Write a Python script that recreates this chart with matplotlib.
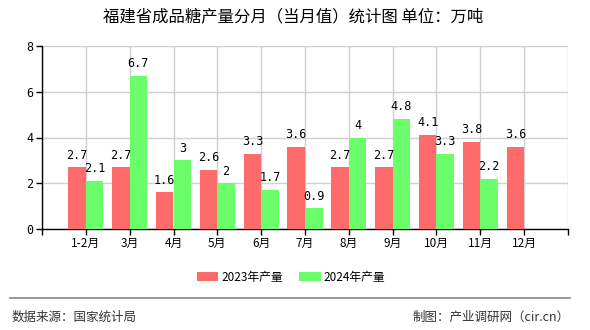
import matplotlib.pyplot as plt
import numpy as np

plt.rcParams['font.family'] = ['Noto Sans CJK SC', 'DejaVu Sans']

months = ["1-2月", "3月", "4月", "5月", "6月", "7月", "8月", "9月", "10月", "11月", "12月"]
prod_2023 = [2.7, 2.7, 1.6, 2.6, 3.3, 3.6, 2.7, 2.7, 4.1, 3.8, 3.6]
prod_2024 = [2.1, 6.7, 3, 2, 1.7, 0.9, 4, 4.8, 3.3, 2.2, None]

red = "#ff6a6a"
green = "#6aff6a"

fig = plt.figure(figsize=(5.9, 3.3), dpi=100)
ax = fig.add_axes([42 / 590, 1 - 229 / 330, 526 / 590, 183 / 330])

x = np.arange(len(months))
w = 0.4
ax.bar(x - w / 2, prod_2023, w, color=red, label="2023年产量", zorder=3)
x24 = [i for i, v in zip(x, prod_2024) if v is not None]
v24 = [v for v in prod_2024 if v is not None]
ax.bar(np.array(x24) + w / 2, v24, w, color=green, label="2024年产量", zorder=3)

mono = ["DejaVu Sans Mono"]
for i, v in zip(x, prod_2023):
    ax.text(i - w / 2, v + 0.25, f"{v:g}", ha="center", va="bottom",
            fontsize=8.5, family=mono, zorder=4)
for i, v in zip(x24, v24):
    ax.text(i + w / 2, v + 0.25, f"{v:g}", ha="center", va="bottom",
            fontsize=8.5, family=mono, zorder=4)

ax.set_xlim(-1, 11)
ax.set_ylim(0, 8)
ax.set_xticks(np.arange(-1, 12))
ax.set_xticklabels([""] + months + [""], fontsize=8.5)
ax.set_yticks([0, 2, 4, 6, 8])
ax.set_yticklabels(["0", "2", "4", "6", "8"], fontsize=8.5, family=mono)
ax.grid(True, color="#d0d0d0", linewidth=1, zorder=0)
for s in ["top", "right"]:
    ax.spines[s].set_visible(False)
ax.spines["left"].set_linewidth(1)
ax.spines["bottom"].set_linewidth(1)
ax.tick_params(length=4, width=1, pad=2)

fig.text(293 / 590, 1 - 17 / 330, "福建省成品糖产量分月（当月值）统计图 单位：万吨",
         ha="center", va="center", fontsize=11.8)

fig.legend(loc="center", bbox_to_anchor=(291 / 590, 1 - 277 / 330), ncol=2,
           frameon=False, fontsize=8.5, handlelength=1.85, handleheight=0.75,
           columnspacing=1.35, handletextpad=0.25)

fig.add_artist(plt.Line2D([10 / 590, 570 / 590], [1 - 298 / 330] * 2,
                          color="#888888", linewidth=1.2))
fig.text(12 / 590, 1 - 317 / 330, "数据来源：国家统计局", ha="left", va="center",
         fontsize=9, color="#333333")
fig.text(570 / 590, 1 - 317 / 330, "制图：产业调研网（cir.cn）", ha="right", va="center",
         fontsize=9, color="#333333")

fig.savefig("out.png", dpi=100)
